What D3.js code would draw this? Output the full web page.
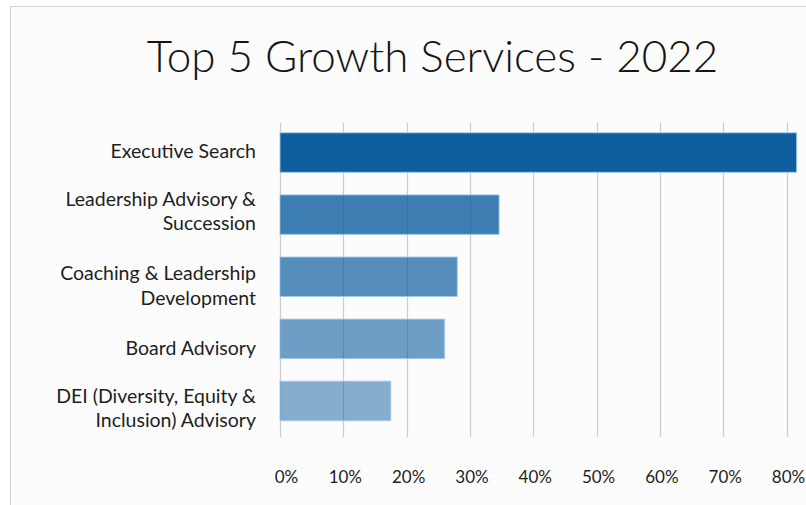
<!DOCTYPE html>
<html>
<head>
<meta charset="utf-8">
<script src="https://cdn.jsdelivr.net/npm/d3@7/dist/d3.min.js"></script>
<style>
  html, body { margin: 0; padding: 0; background: #ffffff; }
  svg { display: block; }
  text { font-family: Lato, "Open Sans", sans-serif; }
</style>
</head>
<body>
<svg id="chart" width="806" height="505"></svg>
<script>
// Services and their share of respondents
const categories = [
  "Executive Search",
  "Leadership Advisory & Succession",
  "Coaching & Leadership Development",
  "Board Advisory",
  "DEI (Diversity, Equity & Inclusion) Advisory"
];
const labelLines = [
  ["Executive Search"],
  ["Leadership Advisory &", "Succession"],
  ["Coaching & Leadership", "Development"],
  ["Board Advisory"],
  ["DEI (Diversity, Equity &", "Inclusion) Advisory"]
];
const values = [0.816, 0.346, 0.28, 0.26, 0.175];
const tickValues = [0, 0.1, 0.2, 0.3, 0.4, 0.5, 0.6, 0.7, 0.8];
const title = "Top 5 Growth Services - 2022";

// Styling
const barColor = "#0e5fa0";
const barOpacity = [1, 0.8, 0.7, 0.6, 0.5];
const labelNudge = [1, -1.5, 11, 11.5, 9.5];

const svg = d3.select("#chart");

// Chart frame
svg.append("rect")
  .attr("x", 10.5).attr("y", 6.5)
  .attr("width", 820).attr("height", 520)
  .attr("fill", "#fcfcfc")
  .attr("stroke", "#d2d2d2")
  .attr("stroke-width", 1);

// Title
svg.append("text")
  .attr("x", 432.5).attr("y", 71.5)
  .attr("text-anchor", "middle")
  .attr("font-size", 44)
  .attr("font-weight", 300)
  .attr("fill", "#151515")
  .text(title);

const x = d3.scaleLinear().domain([0, 0.8]).range([280, 786.5]);
const y = d3.scaleBand().domain(categories).range([121.5, 432])
  .paddingInner(0.364).paddingOuter(0.182);

const gridTop = 122.5, gridBottom = 437;

// Vertical gridlines
svg.append("g").selectAll("line")
  .data(tickValues)
  .join("line")
  .attr("x1", d => Math.round(x(d)) + 0.5)
  .attr("x2", d => Math.round(x(d)) + 0.5)
  .attr("y1", gridTop).attr("y2", gridBottom)
  .attr("stroke", "#cdcdcd")
  .attr("stroke-width", 1.2);

// Bars
svg.append("g").selectAll("rect")
  .data(values)
  .join("rect")
  .attr("x", x(0))
  .attr("y", (d, i) => y(categories[i]))
  .attr("width", d => x(d) - x(0))
  .attr("height", y.bandwidth())
  .attr("fill", barColor)
  .attr("fill-opacity", (d, i) => barOpacity[i])
  .attr("stroke", "rgba(165,200,235,0.85)")
  .attr("stroke-width", 1);

// Category labels
const lineH = 24.3;
const lab = svg.append("g");
categories.forEach((c, i) => {
  const cy = y(c) + y.bandwidth() / 2;
  const lines = labelLines[i];
  const first = cy + 4.5 - (lines.length - 1) * 12 + labelNudge[i];
  const t = lab.append("text")
    .attr("text-anchor", "end")
    .attr("font-size", 19.5)
    .attr("fill", "#1e1e1e");
  lines.forEach((ln, k) => {
    t.append("tspan").attr("x", 256).attr("y", first + k * lineH).text(ln);
  });
});

// Bottom axis (labels only)
const axis = d3.axisBottom(x)
  .tickValues(tickValues)
  .tickFormat(d3.format(".0%"))
  .tickSize(0)
  .tickPadding(0);
const ax = svg.append("g")
  .attr("transform", "translate(0,470)")
  .call(axis);
ax.select(".domain").remove();
ax.selectAll("text")
  .attr("font-family", "Lato, 'Open Sans', sans-serif")
  .attr("font-size", 17)
  .attr("fill", "#1e1e1e")
  .attr("dy", "0.78em")
  .attr("dx", (d, i) => i === 0 ? 6 : 1.5);
</script>
</body>
</html>
